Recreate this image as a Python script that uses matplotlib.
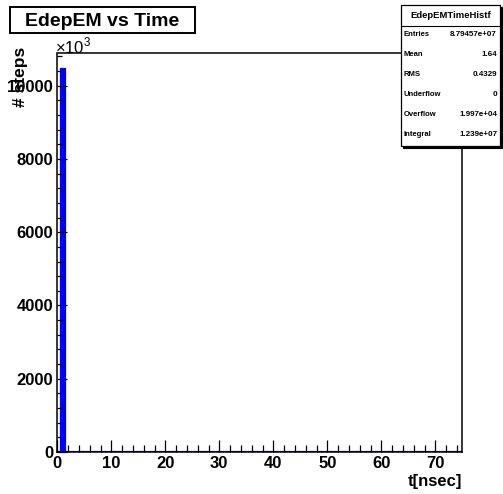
import numpy as np
import matplotlib
matplotlib.use("Agg")
import matplotlib.pyplot as plt
from matplotlib.patches import Rectangle
from matplotlib.ticker import MultipleLocator
from matplotlib.lines import Line2D

plt.rcParams['font.family'] = ['Liberation Sans', 'DejaVu Sans']
plt.rcParams['mathtext.fontset'] = 'custom'
plt.rcParams['mathtext.rm'] = 'Liberation Sans'

# Histogram: 100 bins of 0.75 ns between 0 and 75 ns, contents in units of 10^3 steps
n_bins = 100
t_min, t_max = 0.0, 75.0
head_counts = [0.0, 10450.0]
counts = np.array(head_counts + [0.0] * (n_bins - len(head_counts)))
bin_edges = np.linspace(t_min, t_max, n_bins + 1)

title = "EdepEM vs Time"
x_label = "t[nsec]"
y_label = "# steps"
y_max = 10880

stats_name = "EdepEMTimeHistf"
stats_keys = ["Entries", "Mean", "RMS", "Underflow", "Overflow", "Integral"]
stats_vals = ["8.79457e+07", "1.64", "0.4329", "0", "1.997e+04", "1.239e+07"]

W, H = 503, 494
fig = plt.figure(figsize=(W / 100, H / 100), dpi=100)

def fx(px):
    return px / W

def fy(py):
    return 1 - py / H

ax_l, ax_r, ax_t, ax_b = 57.3, 462.3, 53.5, 452.0
ax = fig.add_axes([fx(ax_l), fy(ax_b), fx(ax_r - ax_l), (ax_b - ax_t) / H])

blue = '#0000ff'
ax.stairs(counts, bin_edges, fill=True, color=blue, linewidth=0)
ax.stairs(counts, bin_edges, fill=False, color=blue, linewidth=1.6, baseline=0)

ax.set_xlim(t_min, t_max)
ax.set_ylim(0, y_max)

for s in ax.spines.values():
    s.set_linewidth(1.1)

ax.xaxis.set_major_locator(MultipleLocator(10))
ax.xaxis.set_minor_locator(MultipleLocator(2))
ax.yaxis.set_major_locator(MultipleLocator(2000))
ax.yaxis.set_minor_locator(MultipleLocator(400))
ax.tick_params(axis='x', which='major', direction='in', length=8.5, width=0.9,
               labelsize=12, pad=3)
ax.tick_params(axis='x', which='minor', direction='in', length=4.8, width=0.9)
ax.tick_params(axis='y', which='major', direction='in', length=7.5, width=0.9,
               labelsize=12, pad=3)
ax.tick_params(axis='y', which='minor', direction='in', length=3.8, width=0.9)
for lab in ax.get_xticklabels() + ax.get_yticklabels():
    lab.set_fontweight('bold')

# exponent marker above the y axis
fig.text(fx(55), fy(46), r'$\times10^{3}$', fontsize=12, ha='left', va='center')

# axis titles
fig.text(fx(20), fy(47), y_label, rotation=90, ha='center', va='top',
         fontsize=12.5, fontweight='bold')
fig.text(fx(462), fy(481), x_label, ha='right', va='center',
         fontsize=12, fontweight='bold')

# title box
tb = Rectangle((fx(10), fy(33.5)), fx(185), (33.5 - 7.3) / H, transform=fig.transFigure,
               facecolor='white', edgecolor='black', linewidth=1.4, zorder=5)
fig.add_artist(tb)
fig.text(fx(102.5), fy(21), title, ha='center', va='center', fontsize=14,
         fontweight='bold', zorder=6)

# statistics box with drop shadow
bx_l, bx_r, bx_t, bx_b = 401.3, 499.5, 5.0, 146.5
shadow = Rectangle((fx(bx_l + 2), fy(bx_b + 2)), fx(bx_r - bx_l), (bx_b - bx_t) / H,
                   transform=fig.transFigure, facecolor='black', edgecolor='black',
                   linewidth=0.8, zorder=7)
fig.add_artist(shadow)
box = Rectangle((fx(bx_l), fy(bx_b)), fx(bx_r - bx_l), (bx_b - bx_t) / H,
                transform=fig.transFigure, facecolor='white', edgecolor='black',
                linewidth=0.9, zorder=8)
fig.add_artist(box)
fig.add_artist(Line2D([fx(bx_l), fx(bx_r)], [fy(26), fy(26)], transform=fig.transFigure,
                      color='black', linewidth=0.8, zorder=9))
fig.text(fx((bx_l + bx_r) / 2), fy(15.5), stats_name, ha='center', va='center',
         fontsize=6.8, fontweight='bold', zorder=10)
row_y0, row_step = 35.0, 19.8
for i, (k, v) in enumerate(zip(stats_keys, stats_vals)):
    yy = row_y0 + i * row_step
    fig.text(fx(404), fy(yy), k, ha='left', va='center', fontsize=5.5,
             fontweight='bold', zorder=10)
    fig.text(fx(497), fy(yy), v, ha='right', va='center', fontsize=5.8,
             fontweight='bold', zorder=10)

fig.savefig('out.png', dpi=100)
